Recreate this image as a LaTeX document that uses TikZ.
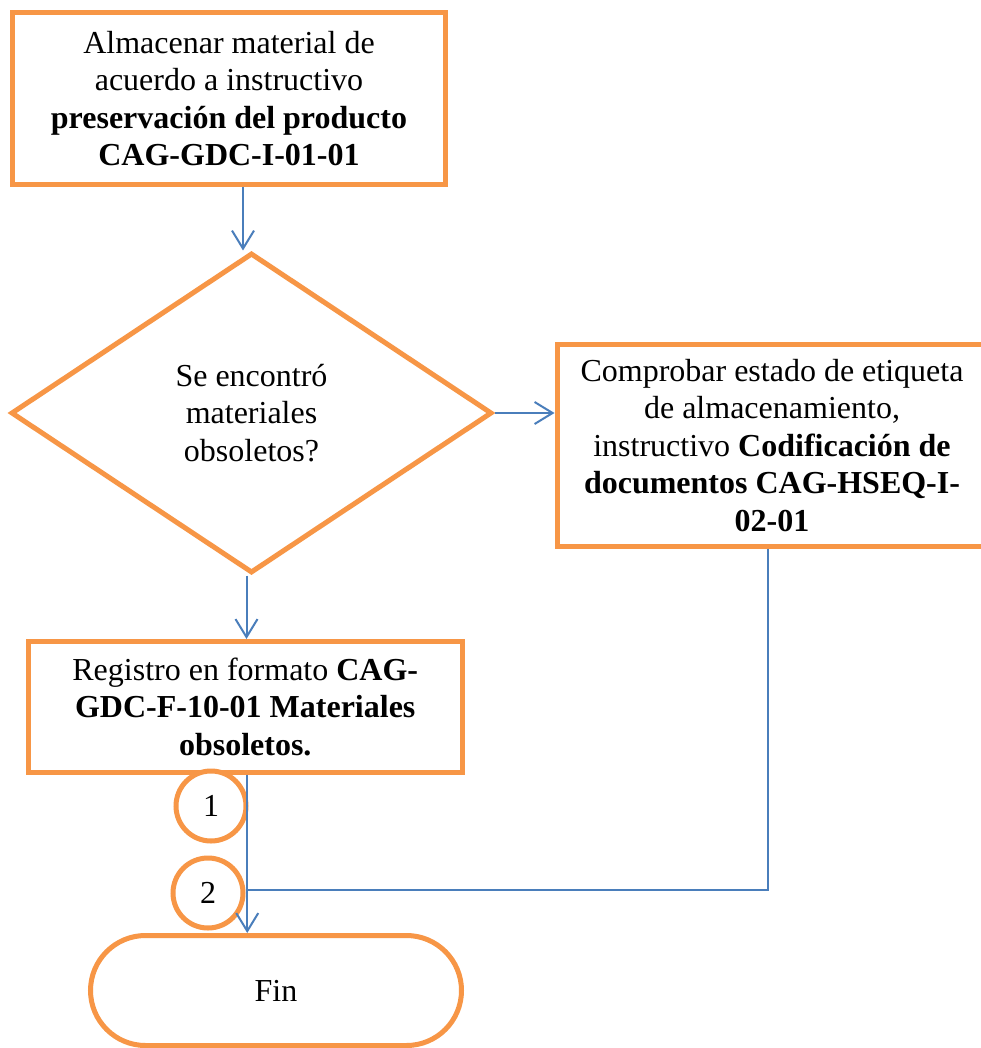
\documentclass[tikz,border=0pt]{standalone}
\usepackage{fontspec}
\setmainfont{Liberation Serif}
\usetikzlibrary{shapes.geometric,arrows.meta,calc}
\definecolor{orng}{HTML}{F79646}
\definecolor{blu}{HTML}{4A7EBB}
\begin{document}
\begin{tikzpicture}[x=1pt,y=-1pt,
  box/.style={draw=orng,line width=5pt,fill=white,inner sep=0pt,align=center,font=\fontsize{32}{37.5}\selectfont},
  arr/.style={draw=blu,line width=2pt,-{Straight Barb[length=18pt,width=22pt]}},
  ln/.style={draw=blu,line width=2pt}]
\useasboundingbox (0,0) rectangle (981,1048);
\clip (0,0) rectangle (981,1048);
\fill[white] (0,0) rectangle (981,1048);

\node[box,minimum width=433pt,minimum height=172pt] (b1) at (229,98.5)
  {Almacenar material de\\acuerdo a instructivo\\\textbf{preservación del producto}\\\textbf{CAG-GDC-I-01-01}};
\node[box,diamond,minimum width=481pt,minimum height=320pt] (dia) at (251.5,413)
  {Se encontró\\materiales\\obsoletos?};
\node[box,minimum width=430pt,minimum height=201.5pt] (b2) at (772,445.25)
  {Comprobar estado de etiqueta\\de almacenamiento,\\instructivo \textbf{Codificación de}\\\textbf{documentos CAG-HSEQ-I-}\\\textbf{02-01}};
\node[box,minimum width=433.5pt,minimum height=130.5pt] (b3) at (245.25,706.75)
  {Registro en formato \textbf{CAG-}\\\textbf{GDC-F-10-01 Materiales}\\\textbf{obsoletos.}};
\node[box,circle,minimum size=70pt] (c1) at (211,806) {1};
\node[box,circle,minimum size=70pt] (c2) at (208,893) {2};
\node[box,rounded corners=55pt,minimum width=371pt,minimum height=110pt] (fin) at (276,990.5) {Fin};

\coordinate (a1s) at ([xshift=14pt]b1.south);
\coordinate (a1e) at (a1s |- dia.north);
\coordinate (a3s) at ([xshift=-5pt]dia.south);
\coordinate (a3e) at (a3s |- b3.north);
\coordinate (a4s) at ([xshift=2pt]b3.south);
\coordinate (a4e) at (a4s |- fin.north);
\coordinate (a5s) at ([xshift=-4pt]b2.south);
\coordinate (j) at (a4s |- 0,890);
\draw[arr] (a1s) -- (a1e);
\draw[arr] (dia.east) -- (b2.west |- dia.east);
\draw[arr] (a3s) -- (a3e);
\draw[arr] (a4s) -- (a4e);
\draw[ln] (a5s) |- (j);
\end{tikzpicture}
\end{document}
